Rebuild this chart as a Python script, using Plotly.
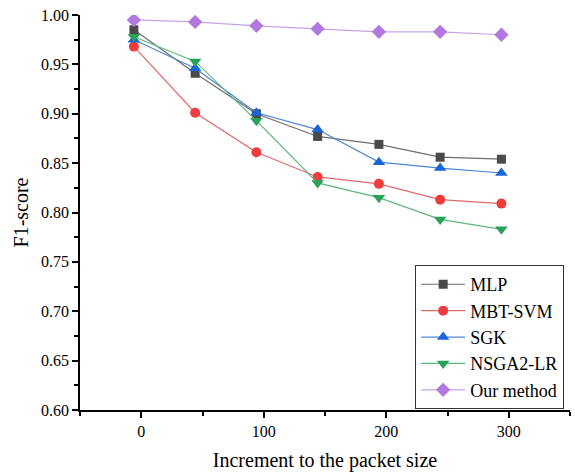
import plotly.graph_objects as go

x_vals = [-6, 44, 94, 144, 194, 244, 294]
mlp = [0.985, 0.941, 0.900, 0.877, 0.869, 0.856, 0.854]
mbt_svm = [0.968, 0.901, 0.861, 0.836, 0.829, 0.813, 0.809]
sgk = [0.975, 0.946, 0.901, 0.884, 0.851, 0.845, 0.840]
nsga2_lr = [0.978, 0.953, 0.893, 0.830, 0.815, 0.793, 0.783]
our_method = [0.995, 0.993, 0.989, 0.986, 0.983, 0.983, 0.980]

series = [
    ("MLP", mlp, "#4a4a4a", "#6e6e6e", "square", 9),
    ("MBT-SVM", mbt_svm, "#f03c3c", "#e06a6a", "circle", 10),
    ("SGK", sgk, "#1a66d9", "#4d86d6", "triangle-up", 11),
    ("NSGA2-LR", nsga2_lr, "#2aa35a", "#5cb87e", "triangle-down", 11),
    ("Our method", our_method, "#b278e0", "#c8a2e6", "diamond", 11),
]

fig = go.Figure()
for name, ys, mc, lc, sym, sz in series:
    fig.add_trace(go.Scatter(
        x=x_vals, y=ys, name=name, mode="lines+markers",
        line=dict(color=lc, width=1.2),
        marker=dict(symbol=sym, size=sz, color=mc, line=dict(width=0)),
    ))

font_family = "Liberation Serif"
fig.update_layout(
    width=575, height=473,
    margin=dict(l=80, r=5, t=15, b=63),
    paper_bgcolor="white", plot_bgcolor="white",
    font=dict(family=font_family, size=16, color="black"),
    showlegend=True,
    legend=dict(
        x=0.684, y=0.367, xanchor="left", yanchor="top",
        bordercolor="#333333", borderwidth=1, bgcolor="white",
        font=dict(family=font_family, size=18, color="black"),
        tracegroupgap=0, itemwidth=44,
    ),
)
fig.update_xaxes(
    range=[-50, 350], tickvals=[0, 100, 200, 300],
    showline=True, linecolor="black", linewidth=1.5,
    ticks="outside", ticklen=6, tickwidth=1.5, tickcolor="black",
    minor=dict(tickvals=[-50, 50, 150, 250, 350], ticks="outside", ticklen=4, tickwidth=1.5, tickcolor="black"),
    showgrid=False, zeroline=False,
    title=dict(text="Increment to the packet size", font=dict(family=font_family, size=20), standoff=14),
    tickfont=dict(family=font_family, size=16),
)
fig.update_yaxes(
    range=[0.60, 1.00], tickvals=[0.60, 0.65, 0.70, 0.75, 0.80, 0.85, 0.90, 0.95, 1.00],
    tickformat=".2f",
    showline=True, linecolor="black", linewidth=1.5,
    ticks="outside", ticklen=6, tickwidth=1.5, tickcolor="black",
    minor=dict(dtick=0.025, ticks="outside", ticklen=4, tickwidth=1.5, tickcolor="black"),
    showgrid=False, zeroline=False,
    title=dict(text="F1-score", font=dict(family=font_family, size=20), standoff=7),
    tickfont=dict(family=font_family, size=16),
)
fig.write_html(
    "out.html",
    config={"displayModeBar": False},
    post_script="document.body.style.margin='0';document.body.style.padding='0';",
)
